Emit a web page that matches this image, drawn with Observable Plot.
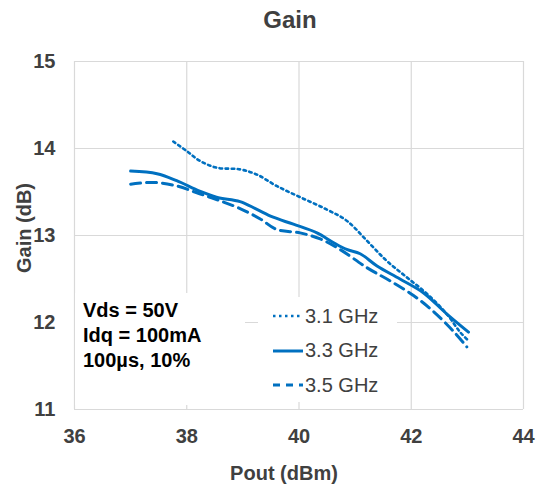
<!DOCTYPE html>
<html><head><meta charset="utf-8">
<script src="https://cdn.jsdelivr.net/npm/d3@7"></script>
<script src="https://cdn.jsdelivr.net/npm/@observablehq/plot@0.6"></script>
<style>
  html, body { margin: 0; padding: 0; background: #fff; }
  #wrap { position: relative; width: 537px; height: 491px; font-family: "Liberation Sans", Arial, sans-serif; }
  #title { position: absolute; left: 0; top: 6px; width: 580px; text-align: center; font-size: 24px; font-weight: bold; color: #404040; }
  #xlabel { position: absolute; left: 184px; top: 462px; width: 200px; text-align: center; font-size: 20px; font-weight: bold; color: #404040; }
  #ylabel { position: absolute; left: 24px; top: 228px; width: 200px; text-align: center; font-size: 20px; font-weight: bold; color: #404040; transform: translate(-50%, -50%) rotate(-90deg); line-height: 22px; }
  .box { position: absolute; background: #fff; }
  #note { left: 75px; top: 293px; width: 170px; height: 112px; font-size: 20px; font-weight: bold; color: #000; line-height: 25px; }
  #note div { padding-left: 8px; }
  #legend { left: 258px; top: 297px; width: 139px; height: 105px; }
  .item { position: absolute; left: 0; height: 34px; display: flex; align-items: center; font-size: 20px; color: #404040; }
  .item svg { margin-left: 15px; margin-right: 2px; }
</style>
</head><body>
<div id="wrap">
  <div id="chart"></div>
  <div id="title"></div>
  <div id="xlabel"></div>
  <div id="ylabel"></div>
  <div id="note" class="box"></div>
  <div id="legend" class="box"></div>
</div>
<script>
const titleText = "Gain";
const xLabel = "Pout (dBm)";
const yLabel = "Gain (dB)";
const xTicks = [36, 38, 40, 42, 44];
const yTicks = [11, 12, 13, 14, 15];
const noteLines = ["Vds = 50V", "Idq = 100mA", "100\u00b5s, 10%"];
const seriesNames = ["3.1 GHz", "3.3 GHz", "3.5 GHz"];
const seriesDash = ["2.5,3.5", null, "10,6"];
const seriesWidth = [2.6, 3, 3];
const color = "#0070C0";

const pout31 = [37.76, 38.0, 38.23, 38.53, 38.95, 39.25, 39.6, 40.02, 40.49, 40.85, 41.21, 41.56, 41.92, 42.28, 42.63, 42.87, 43.02];
const gain31 = [14.08, 13.97, 13.86, 13.78, 13.76, 13.70, 13.57, 13.44, 13.30, 13.17, 12.94, 12.71, 12.52, 12.33, 12.10, 11.89, 11.79];

const pout33 = [37.0, 37.47, 37.82, 38.23, 38.53, 38.95, 39.25, 39.54, 39.9, 40.32, 40.61, 40.85, 41.09, 41.39, 41.8, 42.22, 42.63, 43.02];
const gain33 = [13.74, 13.71, 13.63, 13.51, 13.44, 13.39, 13.30, 13.21, 13.13, 13.03, 12.92, 12.84, 12.79, 12.65, 12.50, 12.34, 12.10, 11.89];

const pout35 = [37.0, 37.41, 37.82, 38.23, 38.59, 38.95, 39.31, 39.6, 40.02, 40.38, 40.73, 41.21, 41.62, 42.04, 42.39, 42.75, 42.99];
const gain35 = [13.59, 13.61, 13.57, 13.48, 13.40, 13.31, 13.19, 13.07, 13.03, 12.96, 12.84, 12.63, 12.48, 12.31, 12.13, 11.90, 11.72];

const pouts = [pout31, pout33, pout35];
const gains = [gain31, gain33, gain35];
const series = seriesNames.map((name, i) => ({
  name, dash: seriesDash[i], width: seriesWidth[i],
  data: pouts[i].map((x, j) => ({x, y: gains[i][j]}))
}));

const font = '"Liberation Sans", Arial, sans-serif';
const chart = Plot.plot({
  width: 537, height: 491,
  marginTop: 61, marginBottom: 82, marginLeft: 74, marginRight: 14,
  style: {fontFamily: font, fontSize: "20px", fontWeight: "bold", color: "#404040", background: "#fff"},
  x: {domain: [36, 44], ticks: xTicks, tickSize: 0, tickPadding: 19, tickFormat: "d", label: null},
  y: {domain: [11, 15], ticks: yTicks, tickSize: 0, tickPadding: 19, tickFormat: "d", label: null},
  marks: [
    Plot.gridX(xTicks.slice(1), {stroke: "#d9d9d9", strokeOpacity: 1, strokeWidth: 1.2}),
    Plot.gridY(yTicks.slice(1), {stroke: "#d9d9d9", strokeOpacity: 1, strokeWidth: 1.2}),
    Plot.ruleX([xTicks[0]], {stroke: "#d9d9d9", strokeWidth: 1.2}),
    Plot.ruleY([yTicks[0]], {stroke: "#d9d9d9", strokeWidth: 1.2}),
    ...series.map(s => Plot.line(s.data, {x: "x", y: "y", curve: "catmull-rom", stroke: color, strokeWidth: s.width, strokeDasharray: s.dash}))
  ]
});
document.getElementById("chart").appendChild(chart);
document.getElementById("title").textContent = titleText;
document.getElementById("xlabel").textContent = xLabel;
document.getElementById("ylabel").textContent = yLabel;

const note = document.getElementById("note");
note.style.paddingTop = "5px";
note.style.boxSizing = "border-box";
for (const t of noteLines) { const d = document.createElement("div"); d.textContent = t; note.appendChild(d); }

const legend = document.getElementById("legend");
series.forEach((s, i) => {
  const it = document.createElement("div");
  it.className = "item";
  it.style.top = (2 + i * 34.5) + "px";
  const ns = "http://www.w3.org/2000/svg";
  const sv = document.createElementNS(ns, "svg");
  sv.setAttribute("width", 30); sv.setAttribute("height", 10);
  const ln = document.createElementNS(ns, "line");
  ln.setAttribute("x1", 0); ln.setAttribute("x2", 30); ln.setAttribute("y1", 5); ln.setAttribute("y2", 5);
  ln.setAttribute("stroke", color); ln.setAttribute("stroke-width", s.width);
  if (s.dash) ln.setAttribute("stroke-dasharray", s.dash === "10,6" ? "7,6" : s.dash);
  sv.appendChild(ln);
  it.appendChild(sv);
  const tx = document.createElement("span"); tx.textContent = s.name; it.appendChild(tx);
  legend.appendChild(it);
});
</script>
</body></html>
